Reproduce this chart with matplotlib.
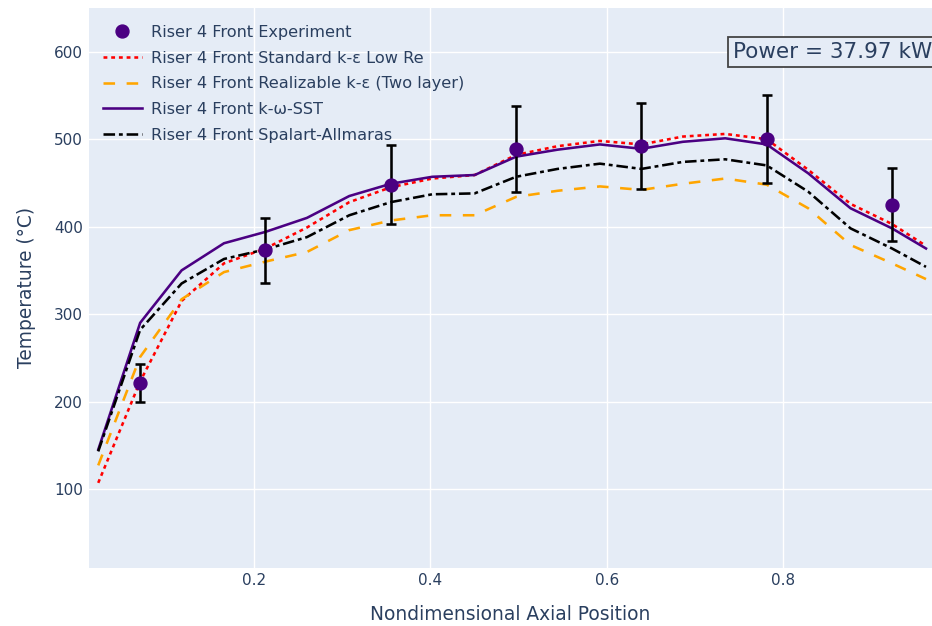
import numpy as np
import matplotlib
matplotlib.use('agg')
import matplotlib.pyplot as plt

# experiment points (temperature in degC, error bar half-length)
x_exp = [0.0708, 0.213, 0.355, 0.497, 0.639, 0.781, 0.923]
t_exp = [221, 373, 448, 489, 492, 500, 425]
t_err = [22, 37, 45, 49, 49, 50, 42]

# CFD profiles
x_cfd = [0.0235, 0.071, 0.118, 0.166, 0.213, 0.260, 0.308, 0.355, 0.402, 0.450,
         0.497, 0.544, 0.592, 0.639, 0.686, 0.734, 0.781, 0.828, 0.876, 0.923, 0.9615]
t_lowre = [107, 223, 315, 358, 375, 399, 428, 445, 455, 459,
           482, 492, 498, 494, 503, 506, 500, 465, 426, 403, 378]
t_realiz = [127, 251, 317, 348, 360, 371, 396, 407, 413, 413,
            434, 441, 446, 442, 449, 455, 448, 421, 379, 358, 340]
t_sst = [145, 290, 350, 381, 394, 410, 435, 449, 457, 459,
         480, 488, 494, 489, 497, 501, 494, 461, 421, 398, 375]
t_sa = [143, 282, 335, 363, 374, 388, 413, 428, 437, 438,
        457, 466, 472, 466, 474, 477, 470, 440, 398, 375, 354]

labels = ['Riser 4 Front Experiment',
          'Riser 4 Front Standard k-ε Low Re',
          'Riser 4 Front Realizable k-ε (Two layer)',
          'Riser 4 Front k-ω-SST',
          'Riser 4 Front Spalart-Allmaras']
power_text = 'Power = 37.97 kW'

plt.rcParams['font.family'] = ['DejaVu Sans']
txt = '#2a3f5f'
W, H = 932, 626
fig = plt.figure(figsize=(W / 100, H / 100), dpi=100)
ax = fig.add_axes([88.7 / W, 1 - 567.7 / H, 1 - 88.7 / W, (567.7 - 8) / H])
ax.set_facecolor('#E5ECF6')
for s in ax.spines.values():
    s.set_visible(False)

lw = 1.85
ax.plot(x_cfd, t_lowre, color='red', lw=lw, linestyle=(0, (1.5, 1.5)), label=labels[1], zorder=3)
ax.plot(x_cfd, t_realiz, color='orange', lw=lw, linestyle=(0, (4.5, 4.5)), label=labels[2], zorder=3)
ax.plot(x_cfd, t_sst, color='#4B0082', lw=lw, label=labels[3], zorder=3)
ax.plot(x_cfd, t_sa, color='black', lw=lw, linestyle=(0, (4.5, 1.5, 1.5, 1.5)), label=labels[4], zorder=3)
ax.errorbar(x_exp, t_exp, yerr=t_err, fmt='none', ecolor='black', elinewidth=lw,
            capsize=3.9, capthick=lw, zorder=4)
ax.plot(x_exp, t_exp, 'o', color='#4B0082', ms=9.3, label=labels[0], zorder=5)

ax.set_xlim(0.0127, 0.9683)
ax.set_ylim(10, 650)
ax.set_xticks([0.2, 0.4, 0.6, 0.8])
ax.set_yticks([100, 200, 300, 400, 500, 600])
ax.grid(color='white', lw=1.0)
ax.set_axisbelow(True)
ax.tick_params(length=0, labelsize=11, labelcolor=txt, pad=4)
ax.set_xlabel('Nondimensional Axial Position', fontsize=13.4, color=txt, labelpad=12)
ax.set_ylabel('Temperature (°C)', fontsize=13.4, color=txt, labelpad=13)

handles, labs = ax.get_legend_handles_labels()
order = [4, 0, 1, 2, 3]
leg = ax.legend([handles[i] for i in order], [labs[i] for i in order],
                loc='upper left', bbox_to_anchor=(103 / W, 1 - 25 / H),
                bbox_transform=fig.transFigure, frameon=False, fontsize=11.6,
                handlelength=2.4, handletextpad=0.6, labelspacing=0.66,
                borderpad=0, borderaxespad=0)
for t in leg.get_texts():
    t.set_color(txt)

fig.text(733 / W, 1 - 52 / H, power_text, fontsize=15.5, color=txt, va='center', ha='left',
         bbox=dict(boxstyle='square,pad=0.22', facecolor='#E5ECF6', edgecolor='#444444', lw=1.3))

fig.savefig('out.png', dpi=100)
